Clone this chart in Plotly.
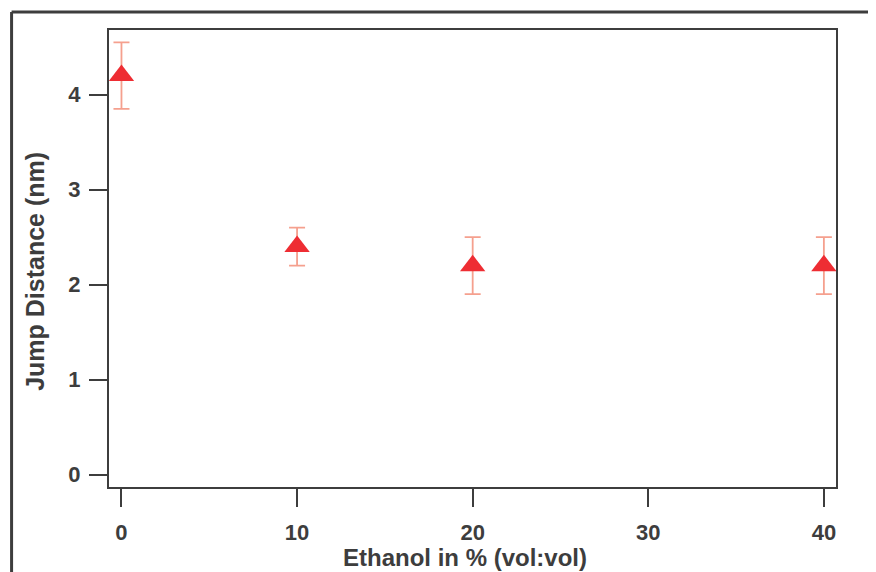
import plotly.graph_objects as go

ethanol_pct = [0, 10, 20, 40]
jump_distance = [4.2, 2.4, 2.2, 2.2]
jump_error = [0.35, 0.2, 0.3, 0.3]
x_ticks = [0, 10, 20, 30, 40]
y_ticks = [0, 1, 2, 3, 4]

axis_color = "#3d3d3d"
font_family = "Liberation Sans, Arial, sans-serif"

fig = go.Figure()
fig.add_trace(go.Scatter(
    x=ethanol_pct, y=jump_distance, mode="markers",
    marker=dict(symbol="triangle-up", size=22, color="#ee2d33", line=dict(width=0)),
    error_y=dict(type="data", array=jump_error, visible=True, color="#f5a08e",
                 thickness=1.8, width=8),
    showlegend=False,
))

common = dict(showline=True, linecolor=axis_color, linewidth=2, mirror=True,
              ticks="outside", ticklen=18, tickwidth=2, tickcolor=axis_color,
              showgrid=False, zeroline=False,
              tickfont=dict(family=font_family, size=22, color=axis_color, weight="bold"))

fig.update_xaxes(range=[-0.71, 40.69], tickvals=x_ticks, ticklabelstandoff=7, **common)
fig.update_yaxes(range=[-0.13, 4.68], tickvals=y_ticks, ticklabelstandoff=4, **common)

title_font = dict(family=font_family, size=24, color=axis_color, weight="bold")
fig.add_annotation(text="Ethanol in % (vol:vol)", xref="paper", yref="paper",
                   x=0.490, y=-0.154, showarrow=False, font=title_font,
                   xanchor="center", yanchor="middle")
fig.add_annotation(text="Jump Distance (nm)", xref="paper", yref="paper",
                   x=-0.101, y=0.472, showarrow=False, font=dict(title_font, size=25),
                   textangle=-90, xanchor="center", yanchor="middle")

# outer partial frame (top and left edges)
fig.add_shape(type="line", xref="paper", yref="paper", x0=-0.134, x1=1.1, y0=1.0394, y1=1.0394,
              line=dict(color=axis_color, width=3))
fig.add_shape(type="line", xref="paper", yref="paper", x0=-0.134, x1=-0.134, y0=1.0394, y1=-0.25,
              line=dict(color=axis_color, width=3))

fig.update_layout(width=868, height=564, margin=dict(l=100.5, r=40, t=22, b=85.3),
                  plot_bgcolor="white", paper_bgcolor="white")

fig.write_html("out.html")
